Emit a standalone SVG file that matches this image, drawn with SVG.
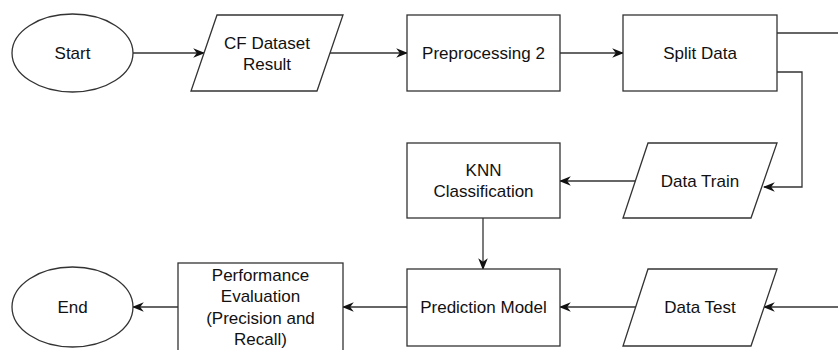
<svg xmlns="http://www.w3.org/2000/svg" width="838" height="350" viewBox="0 0 838 350">
<style>
.s{fill:#fff;stroke:#333;stroke-width:1.3}
.t{font-family:"Liberation Sans",Arial,sans-serif;font-size:17px;fill:#111;text-anchor:middle}
.c{fill:none;stroke:#333;stroke-width:1.3}
</style>
<defs>
<marker id="a" markerUnits="userSpaceOnUse" markerWidth="12" markerHeight="12" viewBox="0 0 10 10" refX="9" refY="5" orient="auto">
<path d="M0,1 L10,5 L0,9 L3,5 z" fill="#111"/>
</marker>
</defs>
<rect width="838" height="350" fill="#fff"/>
<g id="connectors">
<path class="c" d="M133,53 H204" marker-end="url(#a)"/>
<path class="c" d="M330,53 H407" marker-end="url(#a)"/>
<path class="c" d="M560,53 H623" marker-end="url(#a)"/>
<path class="c" d="M777,33 H838"/>
<path class="c" d="M777,72 H802 V187 H764" marker-end="url(#a)"/>
<path class="c" d="M636,181 H560" marker-end="url(#a)"/>
<path class="c" d="M483,218 V269" marker-end="url(#a)"/>
<path class="c" d="M838,307 H764" marker-end="url(#a)"/>
<path class="c" d="M636,307 H560" marker-end="url(#a)"/>
<path class="c" d="M407,307 H343" marker-end="url(#a)"/>
<path class="c" d="M178,307 H133" marker-end="url(#a)"/>
</g>
<g id="start"><ellipse class="s" cx="72.5" cy="53" rx="60.5" ry="39"/><text class="t" x="72.5" y="59">Start</text></g>
<g id="cfdataset"><polygon class="s" points="217,15 343,15 317,91 191,91"/><text class="t" x="267" y="49">CF Dataset</text><text class="t" x="267" y="70">Result</text></g>
<g id="preprocessing"><rect class="s" x="407" y="15" width="153" height="76"/><text class="t" x="483.5" y="59">Preprocessing 2</text></g>
<g id="split"><rect class="s" x="623" y="15" width="154" height="76"/><text class="t" x="700" y="59">Split Data</text></g>
<g id="datatrain"><polygon class="s" points="648,143 777,143 751,218 623,218"/><text class="t" x="700" y="187">Data Train</text></g>
<g id="knn"><rect class="s" x="407" y="143" width="153" height="75"/><text class="t" x="483.5" y="176">KNN</text><text class="t" x="483.5" y="197">Classification</text></g>
<g id="prediction"><rect class="s" x="407" y="269" width="153" height="77"/><text class="t" x="483.5" y="313">Prediction Model</text></g>
<g id="datatest"><polygon class="s" points="648,269 777,269 751,346 623,346"/><text class="t" x="700" y="313">Data Test</text></g>
<g id="performance"><rect class="s" x="178" y="263" width="165" height="92"/><text class="t" x="260.5" y="281">Performance</text><text class="t" x="260.5" y="302">Evaluation</text><text class="t" x="260.5" y="324">(Precision and</text><text class="t" x="260.5" y="345">Recall)</text></g>
<g id="end"><ellipse class="s" cx="72.5" cy="307" rx="60.5" ry="40"/><text class="t" x="72.5" y="313">End</text></g>
</svg>
